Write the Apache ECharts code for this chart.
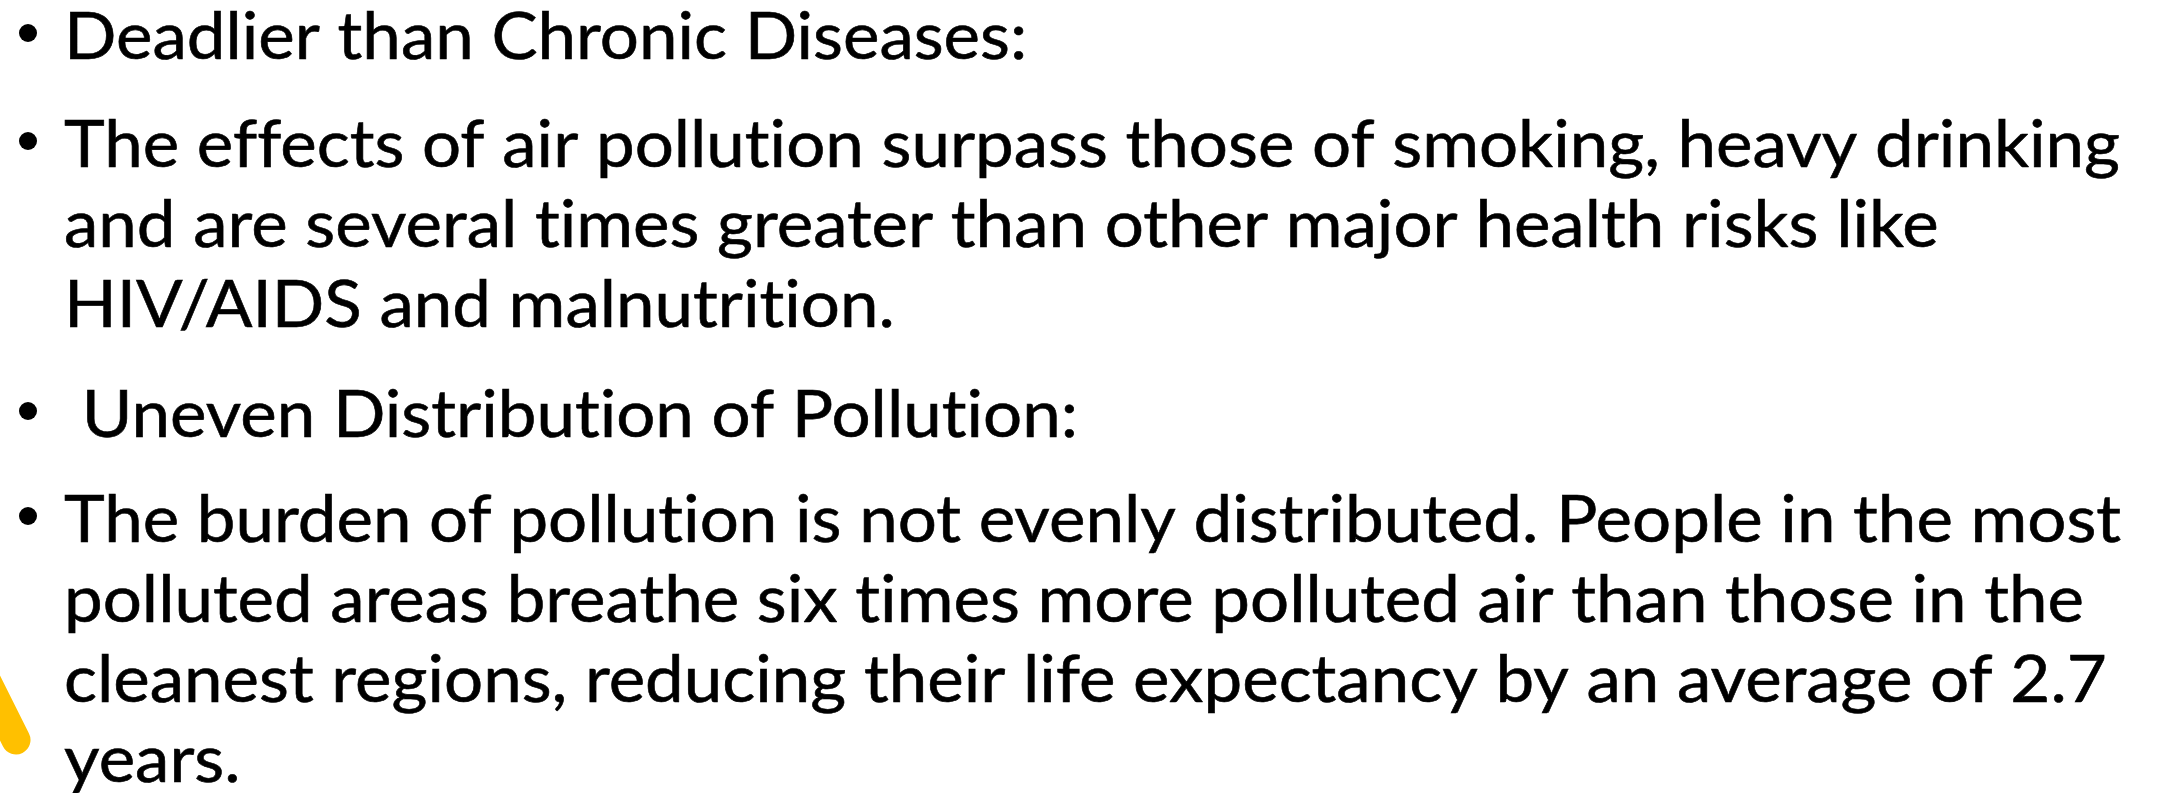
<!DOCTYPE html>
<html>
<head>
<meta charset="utf-8">
<script src="https://cdn.jsdelivr.net/npm/echarts@6/dist/echarts.min.js"></script>
<style>
html,body{margin:0;padding:0;background:#fff;}
#main{width:2159px;height:793px;}
</style>
</head>
<body>
<div id="main"></div>
<script>
// Slide text, one entry per rendered line
var lines = [
  "Deadlier than Chronic Diseases:",
  "The effects of air pollution surpass those of smoking, heavy drinking",
  "and are several times greater than other major health risks like",
  "HIV/AIDS and malnutrition.",
  " Uneven Distribution of Pollution:",
  "The burden of pollution is not evenly distributed. People in the most",
  "polluted areas breathe six times more polluted air than those in the",
  "cleanest regions, reducing their life expectancy by an average of 2.7",
  "years."
];
// whether a line starts a bullet paragraph
var bulleted = [true, true, false, false, true, true, false, false, false];
// baselines of each line (px)
var baselines = [57, 165, 245, 325, 435, 540, 620, 700, 780];

var FONT_SIZE = 65;
var FONT_FAMILY = 'Lato';
var TEXT_X = 64;
var TARGET_W = 2056; // width of line 2 in reference

// render text without ligatures (reference font shows plain "ti")
(function () {
  var P = CanvasRenderingContext2D.prototype;
  ['fillText', 'strokeText', 'measureText'].forEach(function (fn) {
    var orig = P[fn];
    P[fn] = function () {
      try { this.textRendering = 'optimizeSpeed'; } catch (e) {}
      return orig.apply(this, arguments);
    };
  });
})();

var cv = document.createElement('canvas').getContext('2d');
cv.font = FONT_SIZE + 'px ' + FONT_FAMILY;
var sx = TARGET_W / cv.measureText(lines[1]).width;

var chart = echarts.init(document.getElementById('main'), null, {renderer: 'canvas'});
var elements = [];

// yellow decorative stroke at the left edge
elements.push({
  type: 'line',
  shape: {x1: -40, y1: 628, x2: 16, y2: 740},
  style: {stroke: '#FFC000', lineWidth: 29, lineCap: 'round'},
  z: 1
});

lines.forEach(function (t, i) {
  elements.push({
    type: 'text',
    x: TEXT_X,
    y: baselines[i] - 19,
    scaleX: sx,
    style: {
      text: t,
      x: 0, y: 0,
      fill: '#000000',
      stroke: '#000000',
      lineWidth: 0.6,
      font: FONT_SIZE + 'px ' + FONT_FAMILY,
      verticalAlign: 'middle',
      align: 'left'
    },
    z: 2
  });
  if (bulleted[i]) {
    elements.push({
      type: 'circle',
      shape: {cx: 28, cy: baselines[i] - 24, r: 9},
      style: {fill: '#000000'},
      z: 2
    });
  }
});

chart.setOption({
  backgroundColor: '#ffffff',
  animation: false,
  graphic: {elements: elements}
});
</script>
</body>
</html>
